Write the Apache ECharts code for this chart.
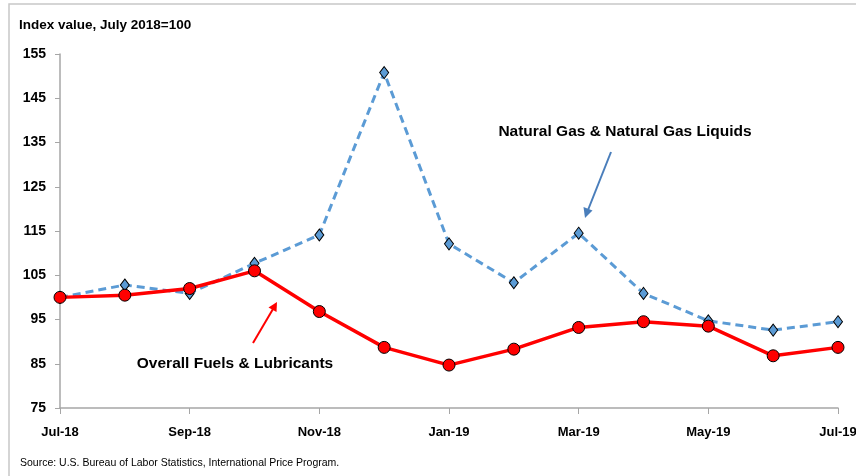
<!DOCTYPE html>
<html>
<head>
<meta charset="utf-8">
<script src="https://cdn.jsdelivr.net/npm/echarts@6/dist/echarts.min.js"></script>
<style>
  html, body { margin: 0; padding: 0; background: #fff; }
  #main { width: 856px; height: 476px; }
</style>
</head>
<body>
<div id="main"></div>
<script>
var months = ['Jul-18', 'Aug-18', 'Sep-18', 'Oct-18', 'Nov-18', 'Dec-18', 'Jan-19',
  'Feb-19', 'Mar-19', 'Apr-19', 'May-19', 'Jun-19', 'Jul-19'];
var natGas = [100, 102.8, 100.9, 107.7, 114.1, 150.8, 112.1, 103.3, 114.5, 100.9, 94.7, 92.6, 94.5];
var fuels = [100, 100.5, 102.0, 106.0, 96.8, 88.7, 84.7, 88.3, 93.2, 94.5, 93.5, 86.8, 88.7];

var FONT = '"Liberation Sans", Arial, sans-serif';
var chart = echarts.init(document.getElementById('main'));

var option = {
  animation: false,
  grid: { left: 60, right: 18, top: 54, bottom: 68, outerBoundsMode: 'none' },
  xAxis: {
    type: 'category',
    data: months,
    boundaryGap: false,
    axisLine: { lineStyle: { color: '#a6a6a6', width: 1.5 } },
    axisTick: { interval: 1, length: 6, lineStyle: { color: '#a6a6a6' } },
    axisLabel: {
      interval: 1, margin: 18, color: '#000',
      fontFamily: FONT, fontWeight: 'bold', fontSize: 13
    },
    splitLine: { show: false }
  },
  yAxis: {
    type: 'value',
    min: 75, max: 155, interval: 10,
    axisLine: { show: true, lineStyle: { color: '#a6a6a6', width: 1.5 } },
    axisTick: { show: true, length: 5, lineStyle: { color: '#a6a6a6' } },
    axisLabel: {
      margin: 14, color: '#000',
      fontFamily: FONT, fontWeight: 'bold', fontSize: 14
    },
    splitLine: { show: false }
  },
  series: [
    {
      name: 'Natural Gas & Natural Gas Liquids',
      type: 'line',
      data: natGas,
      symbol: 'diamond',
      symbolSize: [9, 12],
      itemStyle: { color: '#5b9bd5', borderColor: '#000', borderWidth: 1 },
      lineStyle: { color: '#5b9bd5', width: 3, type: [8, 5] },
      z: 2
    },
    {
      name: 'Overall Fuels & Lubricants',
      type: 'line',
      data: fuels,
      symbol: 'circle',
      symbolSize: 12,
      itemStyle: { color: '#ff0000', borderColor: '#000', borderWidth: 1 },
      lineStyle: { color: '#ff0000', width: 3.5 },
      z: 3
    }
  ],
  graphic: [
    { type: 'rect', shape: { x: 9, y: 4, width: 900, height: 500 },
      style: { fill: 'none', stroke: '#c8c8c8', lineWidth: 1.5 }, z: -1 },
    { type: 'text', left: 19, top: 18,
      style: { text: 'Index value, July 2018=100', fill: '#000',
        font: 'bold 13.5px ' + FONT } },
    { type: 'text', left: 20, top: 458,
      style: { text: 'Source: U.S. Bureau of Labor Statistics, International Price Program.',
        fill: '#000', font: '10.5px ' + FONT } },
    { type: 'text', x: 625, y: 132,
      style: { text: 'Natural Gas & Natural Gas Liquids', fill: '#000',
        font: 'bold 15.5px ' + FONT, align: 'center', verticalAlign: 'middle' } },
    { type: 'text', x: 235, y: 364,
      style: { text: 'Overall Fuels & Lubricants', fill: '#000',
        font: 'bold 15.5px ' + FONT, align: 'center', verticalAlign: 'middle' } },
    // blue arrow
    { type: 'line', shape: { x1: 611, y1: 152, x2: 588, y2: 210 },
      style: { stroke: '#4a7ebb', lineWidth: 2 } },
    { type: 'polygon', shape: { points: [[585, 218], [583.5, 207], [592.5, 210.5]] },
      style: { fill: '#4a7ebb' } },
    // red arrow
    { type: 'line', shape: { x1: 253, y1: 343, x2: 273, y2: 309 },
      style: { stroke: '#ff0000', lineWidth: 2 } },
    { type: 'polygon', shape: { points: [[277, 302], [268.5, 307.5], [276.5, 312]] },
      style: { fill: '#ff0000' } }
  ]
};
chart.setOption(option);
</script>
</body>
</html>
